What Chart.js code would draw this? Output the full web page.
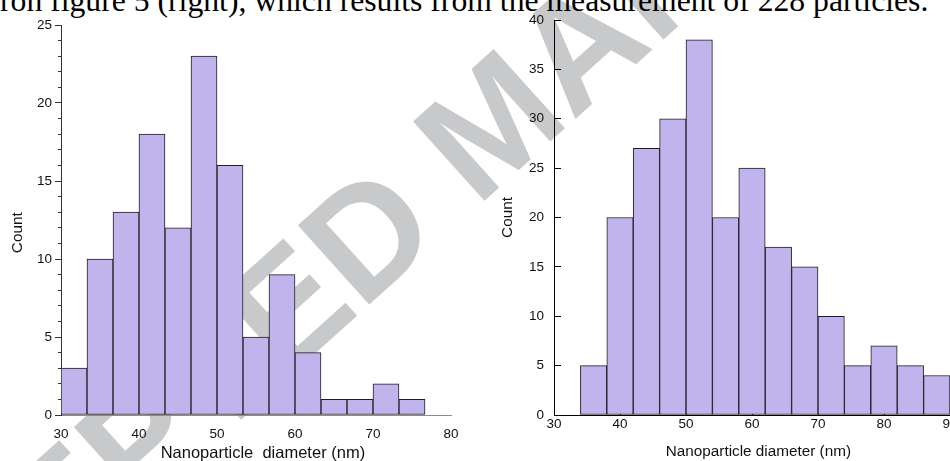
<!DOCTYPE html>
<html>
<head>
<meta charset="utf-8">
<script src="https://cdn.jsdelivr.net/npm/chart.js@4.4.1/dist/chart.umd.min.js"></script>
<style>
  html, body { margin: 0; padding: 0; background: #fff; overflow: hidden; }
  #page { position: relative; width: 950px; height: 461px; overflow: hidden; }
  .mark {
    position: absolute; left: 492px; top: 122px;
    transform: translate(-50%, -50%) rotate(-42deg);
    font: bold 155px "Liberation Sans", Arial, sans-serif; line-height: 1;
    color: #c8c9cb; white-space: nowrap;
  }
  .caption {
    position: absolute; left: 0; top: -15px;
    font: 31.7px "Liberation Serif", "Times New Roman", serif; line-height: 1;
    color: #000; white-space: nowrap;
  }
  #leftBox { position: absolute; left: 0; top: 0; width: 470px; height: 461px; }
  #rightBox { position: absolute; left: 470px; top: 0; width: 530px; height: 461px; }
</style>
</head>
<body>
<div id="page">
  <div class="mark">ACCEPTED MANUSCRIPT</div>
  <div class="caption">ron figure 5 (right), which results from the measurement of 228 particles.</div>
  <div id="leftBox"><canvas id="leftChart" width="470" height="461"></canvas></div>
  <div id="rightBox"><canvas id="rightChart" width="530" height="461"></canvas></div>
</div>
<script>
// histogram bins (edges in nm) and counts
const leftEdges = [30, 33.33, 36.67, 40, 43.33, 46.67, 50, 53.33, 56.67, 60, 63.33, 66.67, 70, 73.33, 76.67];
const leftCounts = [3, 10, 13, 18, 12, 23, 16, 5, 9, 4, 1, 1, 2, 1];
const rightEdges = [34, 38, 42, 46, 50, 54, 58, 62, 66, 70, 74, 78, 82, 86, 90];
const rightCounts = [5, 20, 27, 30, 38, 20, 25, 17, 15, 10, 5, 7, 5, 4];

// axis ticks
const leftXTicks = [30, 40, 50, 60, 70, 80];
const leftYTicks = [0, 1, 2, 3, 4, 5, 6, 7, 8, 9, 10, 11, 12, 13, 14, 15, 16, 17, 18, 19, 20, 21, 22, 23, 24, 25];
const rightXTicks = [30, 40, 50, 60, 70, 80, 90];
const rightYTicks = [0, 5, 10, 15, 20, 25, 30, 35, 40];

const BAR_FILL = '#c1b4ec';
const BAR_LINE = '#1e1e1e';
const FAMILY = '"Liberation Sans", Arial, sans-serif';
const tickFont = { family: FAMILY, size: 13.5 };
const titleFont = { family: FAMILY, size: 15.3, lineHeight: 1 };
const NB = '\u00a0';

function binPoints(edges, counts) {
    return counts.map((c, i) => ({ x: (edges[i] + edges[i + 1]) / 2, y: c }));
}

function setTicks(values) {
    return scale => { scale.ticks = values.map(v => ({ value: v })); };
}

function histDataset(edges, counts) {
    return {
        data: binPoints(edges, counts),
        backgroundColor: BAR_FILL,
        borderColor: BAR_LINE,
        borderWidth: 1,
        borderSkipped: false,
        barThickness: 'flex',
        barPercentage: 1,
        categoryPercentage: 1
    };
}

const common = {
    responsive: false,
    animation: false,
    plugins: { legend: { display: false }, tooltip: { enabled: false } }
};

// left: outward ticks on y with short minor ticks, no ticks on x
new Chart(document.getElementById('leftChart'), {
    type: 'bar',
    data: { datasets: [histDataset(leftEdges, leftCounts)] },
    options: {
        ...common,
        layout: { padding: { left: 0, right: 19, top: 25, bottom: 0 } },
        scales: {
            x: {
                type: 'linear', min: 30, max: 80, offset: false,
                afterBuildTicks: setTicks(leftXTicks),
                afterFit: s => { s.height = 46; },
                border: { color: '#8c8c8c', width: 1 },
                grid: { display: false, offset: false },
                ticks: { padding: 3, color: '#111', font: tickFont, maxRotation: 0 },
                title: {
                    display: true, text: NB + NB + NB + 'Nanoparticle  diameter (nm)', color: '#111',
                    font: { family: FAMILY, size: 16.5, lineHeight: 1 }, padding: { top: 0, bottom: -1 }
                }
            },
            y: {
                min: 0, max: 25,
                afterBuildTicks: setTicks(leftYTicks),
                afterFit: s => { s.width = 61; },
                border: { color: '#333', width: 1 },
                grid: {
                    drawOnChartArea: false, tickLength: 6, tickColor: '#333',
                    tickBorderDash: ctx => (ctx.tick && ctx.tick.value % 5) ? [0, 3, 3, 20] : []
                },
                ticks: {
                    padding: 3, color: '#111', font: tickFont, autoSkip: false,
                    callback: v => (v % 5 ? '' : v)
                },
                title: { display: true, text: 'Count' + NB.repeat(6), color: '#111', font: titleFont, padding: { top: 10, bottom: 0 } }
            }
        }
    }
});

// inward ticks: short dashes of the grid lines, drawn above the bars
function innerTickDash(len, fromEnd) {
    return ctx => {
        const a = ctx.chart.chartArea;
        if (!a) return [];
        return fromEnd ? [0, (a.bottom - a.top) - len, len, 4000] : [len, 4000];
    };
}

new Chart(document.getElementById('rightChart'), {
    type: 'bar',
    data: { datasets: [histDataset(rightEdges, rightCounts)] },
    options: {
        ...common,
        layout: { padding: { left: 0, right: 50, top: 20, bottom: 0 } },
        scales: {
            x: {
                type: 'linear', min: 30, max: 90, offset: false, z: 1,
                afterBuildTicks: setTicks(rightXTicks),
                afterFit: s => { s.height = 46; },
                border: { color: '#000', width: 1, dash: innerTickDash(6, true) },
                grid: { color: '#000', lineWidth: 1, drawTicks: false, offset: false },
                ticks: { padding: 1, color: '#111', font: tickFont, maxRotation: 0 },
                title: { display: true, text: NB + NB + NB + 'Nanoparticle diameter (nm)', color: '#111', font: titleFont, padding: { top: 0, bottom: 2 } }
            },
            y: {
                min: 0, max: 40, z: 1,
                afterBuildTicks: setTicks(rightYTicks),
                afterFit: s => { s.width = 84; },
                border: { color: '#000', width: 1, dash: innerTickDash(6, false) },
                grid: { color: '#000', lineWidth: 1, drawTicks: false },
                ticks: { padding: 10, color: '#111', font: tickFont },
                title: { display: true, text: 'Count', color: '#111', font: titleFont, padding: { top: 30, bottom: 0 } }
            }
        }
    }
});
</script>
</body>
</html>
